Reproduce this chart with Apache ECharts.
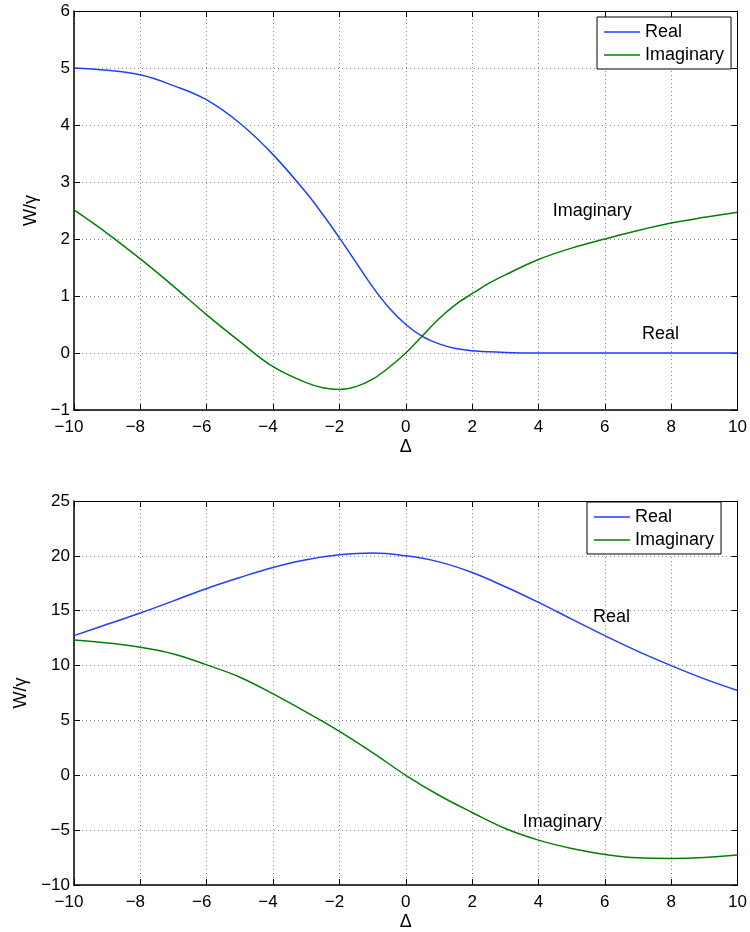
<!DOCTYPE html>
<html>
<head>
<meta charset="utf-8">
<script src="https://cdn.jsdelivr.net/npm/echarts@6/dist/echarts.min.js"></script>
<style>html,body{margin:0;padding:0;background:#fff}#c{width:750px;height:932px}</style>
</head>
<body>
<div id="c"></div>
<script>
// ---- data ----
const xTop = [-10,-9,-8,-7,-6,-5,-4,-3,-2.5,-2,-1.5,-1,-0.5,0,0.5,1,1.5,2,2.5,3,4,5,6,7,8,9,10];
const topReal = [5.0,4.96,4.88,4.69,4.44,4.03,3.48,2.81,2.43,2.02,1.59,1.16,0.79,0.5,0.29,0.16,0.08,0.04,0.02,0.01,0,0,0,0,0,0,0];
const topImag = [2.51,2.1,1.65,1.17,0.67,0.2,-0.24,-0.52,-0.61,-0.64,-0.59,-0.46,-0.25,0.0,0.3,0.6,0.85,1.04,1.22,1.37,1.64,1.84,2.0,2.15,2.28,2.38,2.47];
const xBot = [-10,-9,-8,-7,-6,-5,-4,-3,-2,-1,0,1,2,3,4,5,6,7,8,9,10];
const botReal = [12.73,13.76,14.79,15.9,17.03,18.03,18.94,19.64,20.09,20.26,20.0,19.45,18.48,17.18,15.76,14.24,12.73,11.3,10.0,8.79,7.73];
const botImag = [12.33,12.06,11.67,11.06,10.06,8.94,7.42,5.76,4.0,2.06,0.0,-1.82,-3.39,-4.85,-5.91,-6.67,-7.21,-7.52,-7.58,-7.5,-7.27];
const seriesNames = ['Real','Imaginary'];
const topNotes = [{name:'Imaginary', value:[5.62,2.49]},{name:'Real', value:[7.68,0.33]}];
const botNotes = [{name:'Real', value:[6.2,14.43]},{name:'Imaginary', value:[4.72,-4.25]}];
const xRange = {min:-10, max:10, interval:2};
const yTopRange = {min:-1, max:6, interval:1};
const yBotRange = {min:-10, max:25, interval:5};
const xName = 'Δ';
const yName = 'W/γ';

// ---- styling ----
const FONT = "'Liberation Sans', Arial, Helvetica, sans-serif";
const BLUE = '#1f3fff', GREEN = '#008000';
const pairs = (xs, ys) => xs.map((x,i)=>[x, ys[i]]);
const fmtX = v => v < 0 ? '−' + Math.abs(v) + '{p|}' : String(v);
const fmtY = v => v < 0 ? '−' + Math.abs(v) : String(v);
const grids = [
  {left:74, top:11, width:665, height:399},
  {left:74, top:501, width:665, height:385}
];
function mainX(gi){
  return Object.assign({type:'value', gridIndex:gi, position:'bottom',
    name:xName, nameLocation:'middle', nameGap:28,
    nameTextStyle:{fontFamily:FONT, fontSize:18, color:'#000'},
    axisLine:{show:true, onZero:false, lineStyle:{color:'#000', width:1.5}},
    axisTick:{show:true, inside:true, length:6, lineStyle:{color:'#000'}},
    axisLabel:{formatter:fmtX, fontFamily:FONT, fontSize:17, color:'#000', margin:9,
      rich:{p:{width:10, fontSize:17}}},
    splitLine:{show:true, lineStyle:{color:'#8a8a8a', type:[1,3], width:1}}
  }, xRange);
}
function mirrorX(gi){
  return Object.assign({type:'value', gridIndex:gi, position:'top',
    axisLine:{show:true, onZero:false, lineStyle:{color:'#000', width:1}},
    axisTick:{show:true, inside:true, length:6, lineStyle:{color:'#000'}},
    axisLabel:{show:false}, splitLine:{show:false}
  }, xRange);
}
function mainY(gi, range){
  return Object.assign({type:'value', gridIndex:gi, position:'left',
    name:yName, nameLocation:'middle', nameGap:32, nameRotate:90,
    nameTextStyle:{fontFamily:FONT, fontSize:18, color:'#000'},
    axisLine:{show:true, onZero:false, lineStyle:{color:'#000', width:1.5}},
    axisTick:{show:true, inside:true, length:6, lineStyle:{color:'#000'}},
    axisLabel:{formatter:fmtY, fontFamily:FONT, fontSize:17, color:'#000', margin:4},
    splitLine:{show:true, lineStyle:{color:'#8a8a8a', type:[1,3], width:1}}
  }, range);
}
function mirrorY(gi, range){
  return Object.assign({type:'value', gridIndex:gi, position:'right',
    axisLine:{show:true, onZero:false, lineStyle:{color:'#000', width:1}},
    axisTick:{show:true, inside:true, length:6, lineStyle:{color:'#000'}},
    axisLabel:{show:false}, splitLine:{show:false}
  }, range);
}
function curve(name, data, color, xi, yi){
  return {type:'line', name, data, xAxisIndex:xi, yAxisIndex:yi, symbol:'none',
    smooth:0.4, lineStyle:{color, width:1.5}, itemStyle:{color},
    animation:false, silent:true};
}
function notes(data, xi, yi){
  return {type:'scatter', data, xAxisIndex:xi, yAxisIndex:yi, symbolSize:0, silent:true,
    itemStyle:{opacity:0},
    label:{show:true, position:'inside', formatter:'{b}', fontFamily:FONT, fontSize:18,
      color:'#000', textBorderWidth:0, opacity:1},
    animation:false};
}
function legendAt(left, top){
  return {data:seriesNames.map(n=>({name:n, icon:'rect'})), orient:'vertical', left, top,
    itemWidth:36, itemHeight:1.5, itemGap:3,
    padding:[5,7,4,7], backgroundColor:'#fff', borderColor:'#000', borderWidth:1, borderRadius:0,
    textStyle:{fontFamily:FONT, fontSize:18, color:'#000', lineHeight:20, padding:[0,0,0,0]},
    selectedMode:false};
}
const chart = echarts.init(document.getElementById('c'), null, {renderer:'canvas'});
chart.setOption({
  backgroundColor:'#fff',
  animation:false,
  grid:grids,
  xAxis:[mainX(0), mirrorX(0), mainX(1), mirrorX(1)],
  yAxis:[mainY(0, yTopRange), mirrorY(0, yTopRange), mainY(1, yBotRange), mirrorY(1, yBotRange)],
  legend:[legendAt(597, 17), legendAt(587, 502)],
  series:[
    curve(seriesNames[0], pairs(xTop, topReal), BLUE, 0, 0),
    curve(seriesNames[1], pairs(xTop, topImag), GREEN, 0, 0),
    curve(seriesNames[0], pairs(xBot, botReal), BLUE, 2, 2),
    curve(seriesNames[1], pairs(xBot, botImag), GREEN, 2, 2),
    notes(topNotes, 0, 0),
    notes(botNotes, 2, 2)
  ]
});
</script>
</body>
</html>
